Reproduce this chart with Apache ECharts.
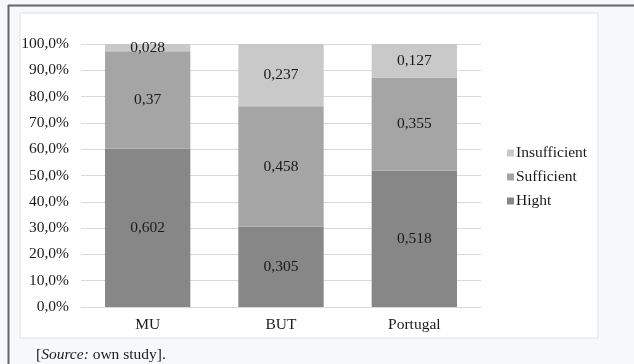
<!DOCTYPE html>
<html>
<head>
<meta charset="utf-8">
<script src="https://cdn.jsdelivr.net/npm/echarts@6/dist/echarts.min.js"></script>
<style>
  html, body { margin: 0; padding: 0; background: #f7f8fa; }
  #chart { width: 634px; height: 364px; }
</style>
</head>
<body>
<div id="chart"></div>
<script>
const categories = ['MU', 'BUT', 'Portugal']
const hight = [0.602, 0.305, 0.518]
const sufficient = [0.37, 0.458, 0.355]
const insufficient = [0.028, 0.237, 0.127]
const yTicks = [0, 0.1, 0.2, 0.3, 0.4, 0.5, 0.6, 0.7, 0.8, 0.9, 1.0]

const font = 'Liberation Serif, Times New Roman, serif'
const fs = 15.5
const comma = v => String(v).replace('.', ',')

function barSeries(name, data, color) {
  return {
    name: name,
    type: 'bar',
    stack: 'total',
    barWidth: '64%',
    data: data,
    itemStyle: { color: color },
    label: {
      show: true,
      color: '#1a1a1a',
      fontFamily: font,
      fontSize: fs,
      formatter: p => comma(p.value)
    }
  }
}

const chart = echarts.init(document.getElementById('chart'))
chart.setOption({
  animation: false,
  textStyle: { fontFamily: font },
  graphic: [
    // outer frame
    { type: 'line', shape: { x1: 8, y1: 5.5, x2: 634, y2: 5.5 }, style: { stroke: '#666', lineWidth: 2 } },
    { type: 'line', shape: { x1: 8.5, y1: 5, x2: 8.5, y2: 364 }, style: { stroke: '#666', lineWidth: 2 } },
    // white panel
    { type: 'rect', z: -10, shape: { x: 20, y: 13, width: 578, height: 325 }, style: { fill: '#fff', stroke: '#e0e0e0', lineWidth: 1 } },
    {
      type: 'text', left: 36, top: 347,
      style: {
        text: '[{i|Source:} own study].',
        fontFamily: font, fontSize: fs, fill: '#1a1a1a',
        rich: { i: { fontStyle: 'italic', fontFamily: font, fontSize: fs, fill: '#1a1a1a' } }
      }
    }
  ],
  grid: { left: 81, right: 153, top: 44, bottom: 57 },
  legend: {
    orient: 'vertical',
    left: 502,
    top: 140,
    itemWidth: 7,
    itemHeight: 7,
    itemGap: 8,
    icon: 'rect',
    data: ['Insufficient', 'Sufficient', 'Hight'],
    textStyle: { fontFamily: font, fontSize: fs, color: '#1a1a1a', padding: [0, 0, 0, -3] }
  },
  xAxis: {
    type: 'category',
    data: categories,
    axisTick: { show: false },
    axisLine: { lineStyle: { color: '#d9d9d9' } },
    axisLabel: { color: '#1a1a1a', fontFamily: font, fontSize: fs, margin: 10 }
  },
  yAxis: {
    type: 'value',
    min: yTicks[0],
    max: yTicks[yTicks.length - 1],
    interval: 0.1,
    axisLabel: {
      color: '#1a1a1a', fontFamily: font, fontSize: fs, margin: 12,
      formatter: v => (v * 100).toFixed(1).replace('.', ',') + '%'
    },
    splitLine: { lineStyle: { color: '#d9d9d9' } }
  },
  series: [
    barSeries('Hight', hight, '#878787'),
    barSeries('Sufficient', sufficient, '#a5a5a5'),
    barSeries('Insufficient', insufficient, '#c9c9c9')
  ]
})
</script>
</body>
</html>
